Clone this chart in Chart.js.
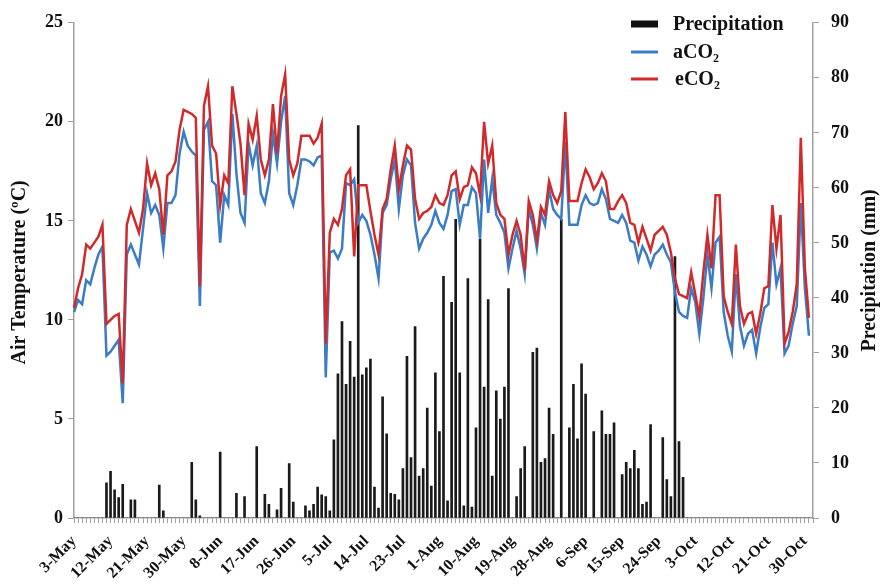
<!DOCTYPE html>
<html>
<head>
<meta charset="utf-8">
<script src="https://cdn.jsdelivr.net/npm/chart.js@4.4.1/dist/chart.umd.min.js"></script>
<style>
  html, body { margin: 0; padding: 0; background: #ffffff; }
  #wrap { width: 885px; height: 585px; position: relative; }
</style>
</head>
<body>
<div id="wrap"><canvas id="chart" width="885" height="585"></canvas></div>
<script>
// Daily categories, 3 May to 1 November
const monthNames = ['May', 'Jun', 'Jul', 'Aug', 'Sep', 'Oct', 'Nov'];
const monthDays = [31, 30, 31, 31, 30, 31, 30];
const days = [];
for (let m = 0; m < monthNames.length && days.length < 183; m++) {
  for (let d = (m === 0 ? 3 : 1); d <= monthDays[m] && days.length < 183; d++) {
    days.push(d + '-' + monthNames[m]);
  }
}

// Labelled ticks on the date axis
const tickLabels = ['3-May', '12-May', '21-May', '30-May', '8-Jun', '17-Jun', '26-Jun',
  '5-Jul', '14-Jul', '23-Jul', '1-Aug', '10-Aug', '19-Aug', '28-Aug', '6-Sep',
  '15-Sep', '24-Sep', '3-Oct', '12-Oct', '21-Oct', '30-Oct'];

// Daily precipitation (mm)
const precipitation = [
  0, 0, 0, 0, 0, 0, 0, 0, 6.4, 8.5,
  5.1, 3.7, 6.1, 0, 3.3, 3.3, 0, 0, 0, 0,
  0, 6.0, 1.3, 0, 0, 0, 0, 0, 0, 10.1,
  3.3, 0.4, 0, 0, 0, 0, 12.0, 0, 0, 0,
  4.5, 0, 3.9, 0, 0, 13.0, 0, 4.3, 2.5, 0,
  1.5, 5.4, 0, 9.9, 2.9, 0, 0, 2.2, 1.3, 2.5,
  5.6, 4.2, 3.9, 1.3, 14.2, 26.2, 35.7, 24.3, 32.1, 25.6,
  71.3, 26.0, 27.3, 28.9, 5.6, 1.8, 22.0, 15.3, 4.5, 4.3,
  3.3, 9.0, 29.4, 11.0, 34.8, 7.6, 9.0, 20.0, 5.8, 26.4,
  15.7, 43.9, 3.1, 39.2, 54.3, 26.4, 2.2, 43.5, 2.0, 16.4,
  50.7, 23.8, 39.7, 7.6, 23.1, 18.0, 23.8, 41.7, 0, 3.9,
  9.0, 13.0, 0, 30.1, 30.9, 10.1, 10.8, 20.0, 15.2, 0,
  54.3, 0, 16.4, 24.3, 14.4, 28.0, 22.5, 0, 15.7, 0,
  19.5, 15.2, 15.2, 17.3, 0, 7.9, 10.1, 9.0, 12.3, 9.0,
  2.5, 2.9, 17.0, 0, 0, 14.6, 7.0, 3.9, 47.5, 13.9,
  7.4, 0, 0, 0, 0, 0, 0, 0, 0, 0,
  0, 0, 0, 0, 0, 0, 0, 0, 0, 0,
  0, 0, 0, 0, 0, 0, 0, 0, 0, 0,
  0, 0
];

// Daily air temperature (°C), ambient CO2
const aCO2 = [
  10.4, 11.0, 10.8, 12.0, 11.8, 12.6, 13.3, 13.7, 8.2, 8.4,
  8.7, 9.0, 5.8, 13.3, 13.8, 13.3, 12.8, 14.6, 16.4, 15.4,
  15.8, 15.3, 13.6, 15.9, 15.9, 16.3, 18.4, 19.5, 18.8, 18.5,
  18.3, 10.7, 19.6, 20.0, 17.0, 16.8, 13.9, 16.3, 15.8, 20.4,
  17.4, 15.4, 14.9, 18.9, 17.8, 18.8, 16.4, 15.9, 17.0, 19.4,
  17.9, 20.0, 21.3, 16.4, 15.8, 16.8, 18.1, 18.1, 18.0, 17.8,
  18.2, 18.3, 7.1, 13.4, 13.5, 13.1, 13.6, 16.9, 16.8, 17.1,
  14.9, 15.3, 15.0, 14.3, 13.3, 12.1, 15.4, 15.8, 17.1, 18.1,
  15.6, 17.3, 18.1, 17.8, 14.9, 13.6, 14.1, 14.4, 14.8, 15.5,
  14.9, 14.6, 15.3, 16.5, 16.6, 14.8, 15.8, 15.8, 16.7, 16.4,
  14.1, 18.1, 15.4, 17.1, 15.3, 14.9, 14.4, 12.6, 13.6, 14.5,
  13.6, 12.3, 15.6, 14.8, 13.6, 15.4, 14.8, 16.6, 15.6, 15.3,
  15.1, 19.0, 14.8, 14.8, 14.8, 15.8, 16.3, 15.9, 15.8, 15.9,
  16.6, 16.1, 15.1, 15.0, 14.9, 15.3, 14.9, 14.0, 13.9, 13.0,
  13.7, 13.3, 12.7, 13.3, 13.5, 13.8, 13.3, 12.9, 11.4, 10.4,
  10.2, 10.1, 11.6, 10.9, 9.3, 11.1, 13.3, 11.6, 13.9, 14.2,
  10.4, 9.2, 8.4, 12.3, 9.7, 8.7, 9.3, 9.5, 8.3, 9.6,
  10.6, 10.8, 13.9, 11.8, 12.6, 8.3, 8.7, 9.8, 10.7, 15.9,
  11.6, 9.2
];

// Daily air temperature (°C), elevated CO2
const eCO2 = [
  10.6, 11.6, 12.3, 13.8, 13.6, 13.9, 14.2, 14.8, 9.8, 10.0,
  10.2, 10.3, 6.8, 14.8, 15.6, 15.0, 14.4, 15.6, 17.9, 16.8,
  17.4, 16.6, 14.3, 17.3, 17.5, 18.0, 19.6, 20.6, 20.5, 20.4,
  20.2, 11.7, 20.8, 21.8, 18.8, 18.4, 15.8, 17.3, 16.9, 21.8,
  20.4, 18.9, 16.3, 19.9, 19.1, 20.3, 18.1, 17.3, 18.1, 20.9,
  18.4, 21.3, 22.4, 18.1, 17.3, 17.9, 19.3, 19.3, 19.3, 18.9,
  19.2, 19.9, 8.8, 14.4, 15.1, 14.8, 15.6, 17.3, 17.6, 13.2,
  16.8, 16.8, 16.8, 15.5, 14.3, 13.3, 15.6, 16.1, 17.6, 18.8,
  16.6, 17.8, 18.8, 18.6, 16.1, 15.1, 15.4, 15.5, 15.7, 16.3,
  15.9, 15.8, 16.3, 17.3, 17.5, 16.1, 16.7, 16.8, 17.7, 17.4,
  16.3, 20.0, 17.9, 18.8, 15.9, 15.3, 15.1, 13.3, 14.3, 15.0,
  14.3, 12.5, 16.0, 15.3, 14.0, 15.7, 15.3, 17.0, 16.3, 15.9,
  16.5, 20.5, 16.0, 16.0, 16.0, 16.9, 17.6, 17.2, 16.6, 16.9,
  17.4, 17.0, 15.6, 15.6, 16.0, 16.3, 15.9, 14.9, 14.8, 13.9,
  14.7, 14.1, 13.5, 14.3, 14.5, 14.7, 14.3, 13.4, 12.1, 11.3,
  11.2, 11.1, 12.4, 11.3, 10.2, 12.4, 14.3, 12.6, 16.3, 16.3,
  11.2, 10.4, 9.8, 13.8, 10.7, 9.8, 10.3, 10.4, 9.3, 10.3,
  11.6, 11.7, 15.8, 13.6, 15.3, 8.8, 9.4, 10.4, 11.8, 19.2,
  12.6, 10.1
];

const SERIF = '"Liberation Serif", "Times New Roman", serif';
const INK = '#111111';
const AXIS = '#a0a0a0';
const BLUE = '#3a7cc6';
const RED = '#d02a2a';
const titleLeft = 'Air Temperature (ºC)';
const titleRight = 'Precipitation (mm)';

// Axis titles and the legend box, drawn over the plot
const decor = {
  id: 'decor',
  afterDraw(chart) {
    const ctx = chart.ctx;
    const area = chart.chartArea;
    const midY = (area.top + area.bottom) / 2;
    ctx.save();
    ctx.fillStyle = INK;
    ctx.font = 'bold 20px ' + SERIF;
    ctx.textAlign = 'center';
    ctx.textBaseline = 'middle';
    ctx.save();
    ctx.translate(20, midY + 2);
    ctx.rotate(-Math.PI / 2);
    ctx.fillText(titleLeft, 0, 0);
    ctx.restore();
    ctx.save();
    ctx.translate(870, midY);
    ctx.rotate(-Math.PI / 2);
    ctx.fillText(titleRight, 0, 0);
    ctx.restore();

    // legend
    const ds = chart.data.datasets;
    const lx = 631, lw = 27, tx = 673;
    const rows = [24, 52, 79];
    ctx.textAlign = 'left';
    ctx.font = 'bold 20px ' + SERIF;
    ds.forEach((d, k) => {
      const y = rows[k];
      if (d.type === 'bar') {
        ctx.fillStyle = '#111';
        ctx.fillRect(lx, y - 3.5, lw, 7);
      } else {
        ctx.strokeStyle = d.borderColor;
        ctx.lineWidth = 3;
        ctx.beginPath();
        ctx.moveTo(lx, y);
        ctx.lineTo(lx + lw, y);
        ctx.stroke();
      }
      ctx.fillStyle = INK;
      ctx.fillText(d.label, tx + (k === 2 ? 2 : 0), y + 1);
    });
    ctx.restore();
  }
};

new Chart(document.getElementById('chart'), {
  type: 'bar',
  data: {
    labels: days,
    datasets: [
      {
        type: 'bar',
        label: 'Precipitation',
        data: precipitation,
        yAxisID: 'y1',
        backgroundColor: '#1a1a1a',
        barThickness: 2,
        order: 3
      },
      {
        type: 'line',
        label: 'aCO₂',
        data: aCO2,
        yAxisID: 'y',
        borderColor: BLUE,
        borderWidth: 2.5,
        pointRadius: 0,
        tension: 0,
        order: 2
      },
      {
        type: 'line',
        label: 'eCO₂',
        data: eCO2,
        yAxisID: 'y',
        borderColor: RED,
        borderWidth: 2.5,
        pointRadius: 0,
        tension: 0,
        order: 1
      }
    ]
  },
  options: {
    responsive: false,
    animation: false,
    devicePixelRatio: 1,
    layout: { padding: { top: 19, left: 0, right: 0, bottom: 0 } },
    plugins: {
      legend: { display: false },
      tooltip: { enabled: false }
    },
    scales: {
      x: {
        type: 'category',
        offset: false,
        grid: { offset: false, drawOnChartArea: false, drawTicks: true, tickLength: 5, color: AXIS },
        border: { color: AXIS, width: 1.5 },
        ticks: {
          autoSkip: false,
          maxRotation: 45,
          minRotation: 45,
          padding: 9,
          color: INK,
          font: { family: SERIF, size: 16, weight: 'bold' },
          callback: function (v) {
            const lab = this.getLabelForValue(v);
            return tickLabels.includes(lab) ? lab : '';
          }
        },
        afterFit: s => { s.height = 67; }
      },
      y: {
        position: 'left',
        min: 0,
        max: 25,
        grid: { drawOnChartArea: false, tickLength: 6, color: AXIS },
        border: { color: AXIS, width: 1.5 },
        ticks: { stepSize: 5, padding: 5, color: INK, font: { family: SERIF, size: 18, weight: 'bold' } },
        afterFit: s => { s.width = 74; }
      },
      y1: {
        position: 'right',
        min: 0,
        max: 90,
        grid: { drawOnChartArea: false, tickLength: 6, color: AXIS },
        border: { color: AXIS, width: 1.5 },
        ticks: { stepSize: 10, padding: 12, color: INK, font: { family: SERIF, size: 18, weight: 'bold' } },
        afterFit: s => { s.width = 72; }
      }
    }
  },
  plugins: [decor]
});
</script>
</body>
</html>
